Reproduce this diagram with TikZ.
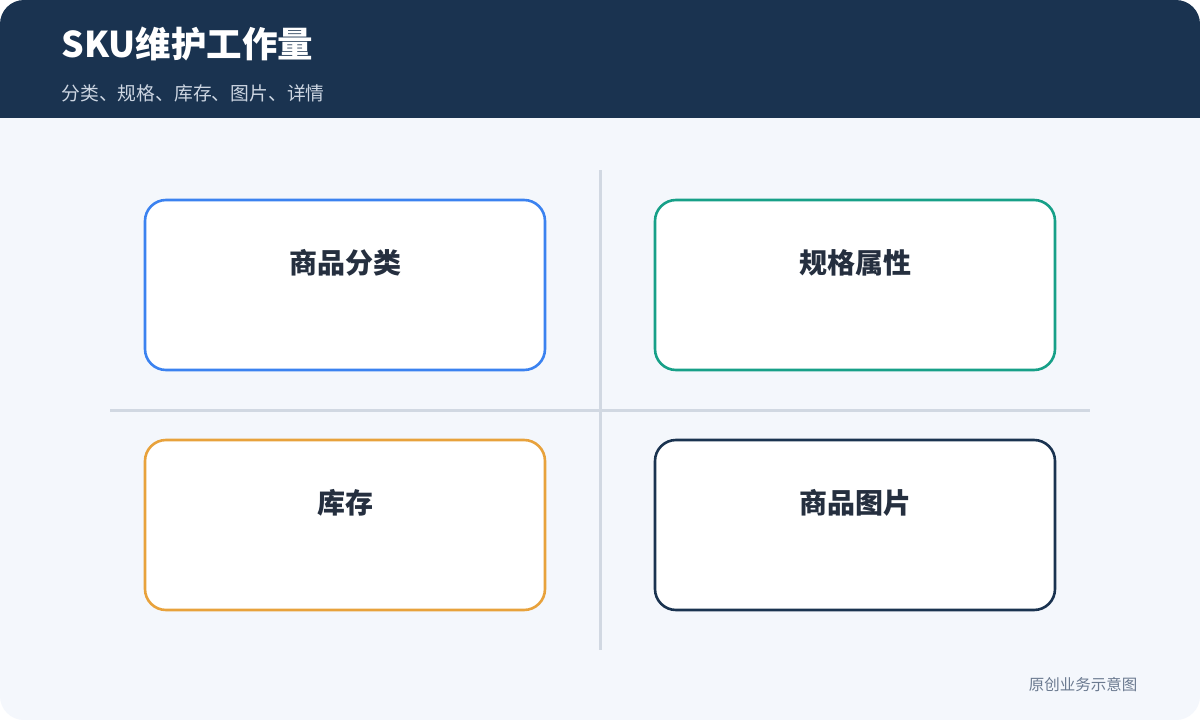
\documentclass[tikz,border=0pt]{standalone}
\usepackage{fontspec}
\setmainfont{Noto Sans CJK SC}
\definecolor{headnavy}{HTML}{1A3350}
\definecolor{pagebg}{HTML}{F4F7FC}
\definecolor{gridgray}{HTML}{D1D8E2}
\definecolor{labeldark}{HTML}{252F3F}
\definecolor{subgray}{HTML}{CDD6E2}
\definecolor{footgray}{HTML}{6B7A90}
\definecolor{cardblue}{HTML}{3B82F0}
\definecolor{cardteal}{HTML}{17A088}
\definecolor{cardorange}{HTML}{E8A23C}
\tikzset{
  card/.style={draw=#1, fill=white, line width=2.6pt, rounded corners=21pt,
    minimum width=400pt, minimum height=170pt, inner sep=0pt},
  cardlabel/.style={font=\fontsize{28}{32}\selectfont\bfseries, text=labeldark},
  divider/.style={draw=gridgray, line width=3pt}
}
\begin{document}
\begin{tikzpicture}[x=1pt,y=-1pt]
  \useasboundingbox (0,0) rectangle (1200,720);
  \fill[white] (0,0) rectangle (1200,720);
  \begin{scope}
    \clip[rounded corners=24pt] (0,0) rectangle (1200,720);
    \fill[pagebg] (0,0) rectangle (1200,720);
    \fill[headnavy] (0,0) rectangle (1200,118);
  \end{scope}
  \node[anchor=west, text=white, font=\fontsize{35.5}{40}\selectfont\bfseries] (title) at (58,44) {SKU维护工作量};
  \node[anchor=west, text=subgray, font=\fontsize{18.8}{22}\selectfont] (subtitle) at (58,93) {分类、规格、库存、图片、详情};

  % dividers
  \coordinate (vtop) at (600,170);
  \coordinate (vbot) at (600,650);
  \coordinate (hleft) at (110,410);
  \coordinate (hright) at (1090,410);
  \draw[divider] (vtop) -- (vbot);
  \draw[divider] (hleft) -- (hright);

  % cards
  \node[card=cardblue] (category) at (345,285) {};
  \node[card=cardteal] (spec) at (855,285) {};
  \node[card=cardorange] (stock) at (345,525) {};
  \node[card=headnavy] (image) at (855,525) {};
  \node[cardlabel] (category-label) at ([yshift=22pt]category.center) {商品分类};
  \node[cardlabel] (spec-label) at ([yshift=22pt]spec.center) {规格属性};
  \node[cardlabel] (stock-label) at ([yshift=22pt]stock.center) {库存};
  \node[cardlabel] (image-label) at ([yshift=22pt]image.center) {商品图片};

  \node[anchor=east, text=footgray, font=\fontsize{15.5}{18}\selectfont] (footer) at (1141,685) {原创业务示意图};
\end{tikzpicture}
\end{document}
